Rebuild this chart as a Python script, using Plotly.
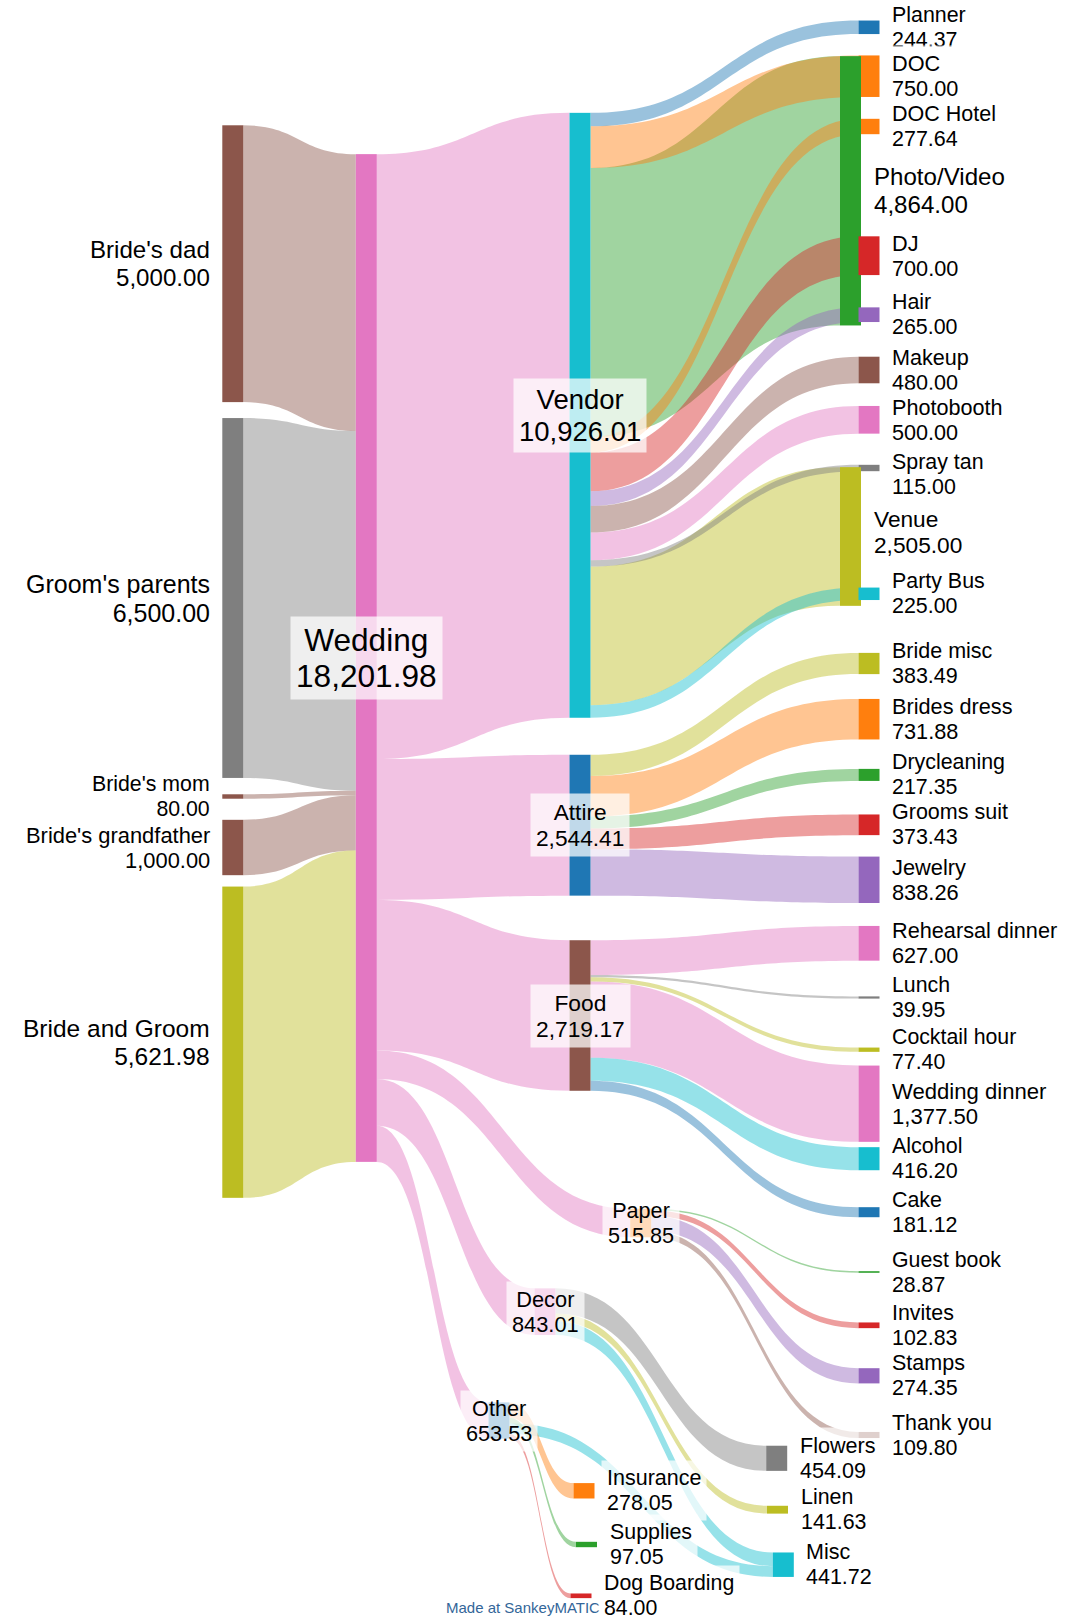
import plotly.graph_objects as go

# ---------------- data ----------------
node_names = [
    "Bride's dad", "Groom's parents", "Bride's mom", "Bride's grandfather", "Bride and Groom",
    "Wedding", "Vendor", "Attire", "Food", "Paper", "Decor", "Other",
    "Planner", "DOC", "DOC Hotel", "Photo/Video", "DJ", "Hair", "Makeup", "Photobooth",
    "Spray tan", "Venue", "Party Bus",
    "Bride misc", "Brides dress", "Drycleaning", "Grooms suit", "Jewelry",
    "Rehearsal dinner", "Lunch", "Cocktail hour", "Wedding dinner", "Alcohol", "Cake",
    "Guest book", "Invites", "Stamps", "Thank you",
    "Flowers", "Linen", "Misc", "Insurance", "Supplies", "Dog Boarding",
]

link_source = [
    "Bride's dad", "Groom's parents", "Bride's mom", "Bride's grandfather", "Bride and Groom",
    "Wedding", "Wedding", "Wedding", "Wedding", "Wedding", "Wedding",
    "Vendor", "Vendor", "Vendor", "Vendor", "Vendor", "Vendor", "Vendor", "Vendor", "Vendor", "Vendor", "Vendor",
    "Attire", "Attire", "Attire", "Attire", "Attire",
    "Food", "Food", "Food", "Food", "Food", "Food",
    "Paper", "Paper", "Paper", "Paper",
    "Decor", "Decor", "Decor",
    "Other", "Other", "Other", "Other",
]
link_target = [
    "Wedding", "Wedding", "Wedding", "Wedding", "Wedding",
    "Vendor", "Attire", "Food", "Paper", "Decor", "Other",
    "Photo/Video", "Venue", "Planner", "DOC", "DOC Hotel", "DJ", "Hair", "Makeup", "Photobooth", "Spray tan", "Party Bus",
    "Bride misc", "Brides dress", "Drycleaning", "Grooms suit", "Jewelry",
    "Rehearsal dinner", "Lunch", "Cocktail hour", "Wedding dinner", "Alcohol", "Cake",
    "Guest book", "Invites", "Stamps", "Thank you",
    "Flowers", "Linen", "Misc",
    "Misc", "Insurance", "Supplies", "Dog Boarding",
]
link_value = [
    5000.00, 6500.00, 80.00, 1000.00, 5621.98,
    10926.01, 2544.41, 2719.17, 515.85, 843.01, 653.53,
    4864.00, 2505.00, 244.37, 750.00, 277.64, 700.00, 265.00, 480.00, 500.00, 115.00, 225.00,
    383.49, 731.88, 217.35, 373.43, 838.26,
    627.00, 39.95, 77.40, 1377.50, 416.20, 181.12,
    28.87, 102.83, 274.35, 109.80,
    454.09, 141.63, 247.29,
    194.43, 278.05, 97.05, 84.00,
]

credit_text = "Made at SankeyMATIC"

# ---------------- style / layout ----------------
C = {"blue": "#1f77b4", "orange": "#ff7f0e", "green": "#2ca02c", "red": "#d62728",
     "purple": "#9467bd", "brown": "#8c564b", "pink": "#e377c2", "gray": "#7f7f7f",
     "olive": "#bcbd22", "cyan": "#17becf"}
node_color_names = [
    "brown", "gray", "brown", "brown", "olive",
    "pink", "cyan", "blue", "brown", "orange", "pink", "blue",
    "blue", "orange", "orange", "green", "red", "purple", "brown", "pink",
    "gray", "olive", "cyan",
    "olive", "orange", "green", "red", "purple",
    "pink", "gray", "olive", "pink", "cyan", "blue",
    "green", "red", "purple", "brown",
    "gray", "olive", "cyan", "orange", "green", "red",
]
# node centre positions in pixels (x from left, y from top)
node_cx = [232.8, 232.8, 232.8, 232.8, 232.8,
           366.3, 580, 580, 580, 640.7, 545, 499,
           869, 869, 869, 850.5, 869, 869, 869, 869,
           869, 850.5, 869,
           869, 869, 869, 869, 869,
           869, 869, 869, 869, 869, 869,
           869, 869, 869, 869,
           776.7, 777.5, 783.3, 584, 586.5, 581]
node_cy = [263.7, 598.0, 796.5, 847.5, 1042.2,
           658.0, 415.3, 825.2, 1015.5, 1223.0, 1311.7, 1420.5,
           27.3, 76.2, 126.5, 190.8, 255.7, 314.7, 370.0, 419.8,
           468.0, 536.5, 593.8,
           663.5, 719.2, 774.9, 824.8, 879.8,
           943.3, 997.5, 1049.7, 1103.7, 1158.7, 1212.2,
           1272.0, 1325.3, 1375.8, 1435.0,
           1458.3, 1509.7, 1564.7, 1490.8, 1544.5, 1595.8]
label_side = ["l"] * 5 + ["c"] * 7 + ["r"] * 32
label_dy = {"Spray tan": 6.5, "Venue": -5.0}

W, H = 1080, 1620
THICK = 21
NODE_PAD = 19.75
FONT = "Liberation Sans, Arial, sans-serif"
FLOW_ALPHA = 0.45

idx = {n: i for i, n in enumerate(node_names)}
src_i = [idx[s] for s in link_source]
tgt_i = [idx[t] for t in link_target]
N = len(node_names)
vin = [0.0] * N
vout = [0.0] * N
for s, t, v in zip(src_i, tgt_i, link_value):
    vout[s] += v
    vin[t] += v
node_value = [max(a, b) for a, b in zip(vin, vout)]
node_colors = [C[c] for c in node_color_names]


def rgba(hx, a):
    hx = hx.lstrip("#")
    r, g, b = int(hx[0:2], 16), int(hx[2:4], 16), int(hx[4:6], 16)
    return f"rgba({r},{g},{b},{a})"


# outside-in flow colouring: left half uses source colour, right half target colour
link_colors = []
for s, t in zip(src_i, tgt_i):
    use = s if (vin[s] == 0 or node_names[s] == "Wedding") else t
    link_colors.append(rgba(node_colors[use], FLOW_ALPHA))

fig = go.Figure(go.Sankey(
    arrangement="fixed",
    valueformat=",.2f",
    node=dict(
        label=[""] * N,
        customdata=node_names,
        hovertemplate="%{customdata}: %{value}<extra></extra>",
        color=node_colors,
        thickness=THICK,
        pad=NODE_PAD,
        line=dict(width=0),
        x=[x / W for x in node_cx],
        y=[y / H for y in node_cy],
    ),
    link=dict(source=src_i, target=tgt_i, value=link_value, color=link_colors),
))

annotations = [dict(
    x=444.3 / W, y=1 - 1607.5 / H, xref="paper", yref="paper",
    text=credit_text, showarrow=False, xanchor="left", yanchor="middle",
    font=dict(size=15, family=FONT, color="#336699"),
)]

GAP = 11.5
BPAD = 5
vmax = max(node_value)
for i, name in enumerate(node_names):
    fs = 21.3 + 10.3 * node_value[i] / vmax
    span = f'<span style="font-size:{fs:.1f}px">'
    text = f"{span}{name}</span><br>{span}{node_value[i]:,.2f}</span>"
    side = label_side[i]
    if side == "l":
        x, xa = node_cx[i] - THICK / 2 - GAP + BPAD, "right"
    elif side == "r":
        x, xa = node_cx[i] + THICK / 2 + GAP - BPAD, "left"
    else:
        x, xa = node_cx[i], "center"
    y = node_cy[i] + label_dy.get(name, 0.0)
    annotations.append(dict(
        x=x / W, y=1 - y / H, xref="paper", yref="paper",
        text=text, showarrow=False, xanchor=xa, yanchor="middle", align=xa,
        font=dict(size=fs * 1.15 / 1.3, family=FONT, color="black"),
        bgcolor="rgba(255,255,255,0.72)", borderpad=BPAD,
    ))

fig.update_layout(
    width=W, height=H,
    margin=dict(l=0, r=0, t=0, b=0),
    paper_bgcolor="white",
    plot_bgcolor="white",
    font=dict(family=FONT),
    annotations=annotations,
)

fig.write_html(
    "out.html",
    config={"displayModeBar": False},
    post_script="document.body.style.margin='0';document.body.style.padding='0';",
)
